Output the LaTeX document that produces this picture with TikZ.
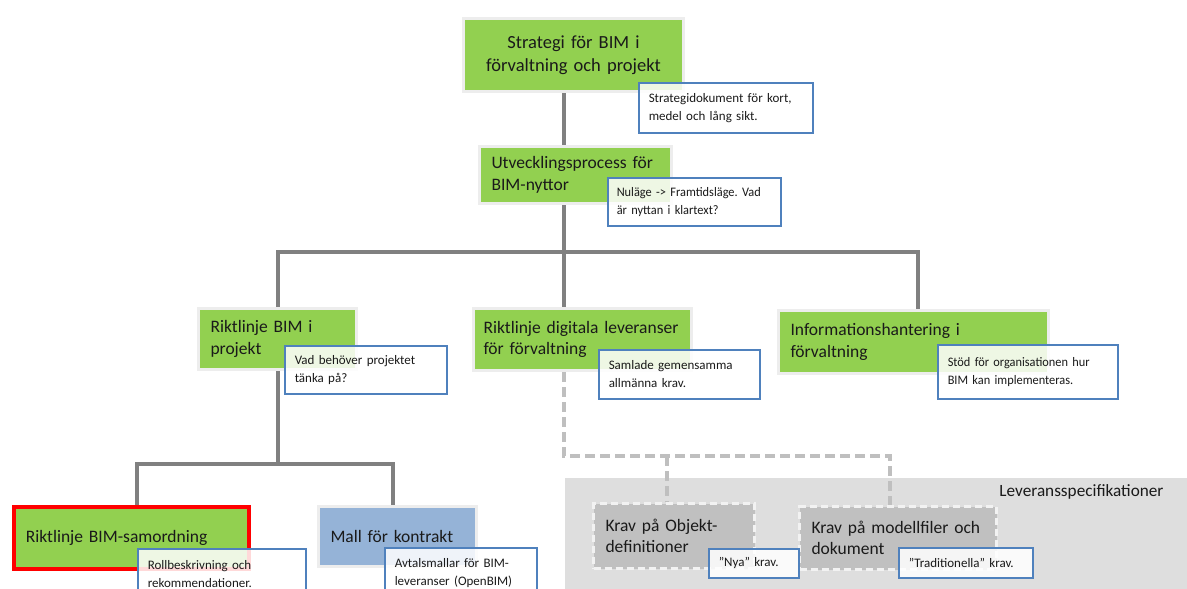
\documentclass[tikz,border=0pt]{standalone}
\usepackage{fontspec}
\setmainfont{Carlito}
\newfontfamily\notecond[FakeStretch=0.95]{Carlito}
\usetikzlibrary{backgrounds}
\frenchspacing
\definecolor{bimgreen}{HTML}{92D050}
\definecolor{bimblue}{HTML}{95B3D7}
\definecolor{kravgray}{HTML}{C0C0C0}
\definecolor{notebd}{HTML}{4F81BD}
\definecolor{lineg}{HTML}{808080}
\definecolor{dashg}{HTML}{BFBFBF}
\definecolor{regiong}{HTML}{DEDEDE}
\definecolor{glowg}{HTML}{EDEDED}
\definecolor{txt}{HTML}{1A1A1A}
\tikzset{
  glowbox/.style={draw=glowg, line width=3pt, anchor=north west, inner xsep=12pt,
    inner ysep=2pt, text=txt, align=left, font=\fontsize{17.5}{21.5}\selectfont},
  greenbox/.style={glowbox, fill=bimgreen},
  bluebox/.style={glowbox, fill=bimblue},
  redbox/.style={glowbox, fill=bimgreen, draw=red, line width=3.5pt},
  kravbox/.style={glowbox, fill=kravgray, draw=white!95!black, dash pattern=on 7pt off 4pt},
  notebox/.style={draw=notebd, line width=1.5pt, fill=white, fill opacity=0.85,
    text opacity=1, anchor=north west, inner xsep=10pt, inner ysep=2pt, align=left,
    text=txt, font=\fontsize{13}{18}\selectfont},
  condnote/.style={notebox, font=\notecond\fontsize{13}{18}\selectfont},
  conn/.style={draw=lineg, line width=4pt},
  dconn/.style={draw=dashg, line width=4pt, dash pattern=on 10pt off 5pt},
}
\begin{document}
\begin{tikzpicture}[x=1pt,y=-1pt]
\useasboundingbox (0,0) rectangle (1187,589);
\clip (0,0) rectangle (1187,589);

% boxes
\node[greenbox, align=center, text width=196, minimum height=73, font=\fontsize{18.5}{23}\selectfont] (strat) at (462,17) {Strategi för BIM i\\förvaltning och projekt};
\node[greenbox, text width=168, minimum height=57] (utv) at (478,145) {Utvecklingsprocess för\\BIM-nyttor};
\node[greenbox, text width=134, minimum height=61] (rbp) at (197,307) {Riktlinje BIM i\\projekt};
\node[greenbox, inner xsep=10pt, text width=198, minimum height=62] (rdl) at (472,307) {Riktlinje digitala leveranser\\för förvaltning};
\node[greenbox, text width=246, minimum height=63] (rif) at (777,309) {Informationshantering i\\förvaltning};
\node[redbox, text width=211, minimum height=62] (bsam) at (12,505) {Riktlinje BIM-samordning};
\node[bluebox, text width=134, minimum height=60] (mall) at (317,505) {Mall för kontrakt};
\node[kravbox, text width=137, minimum height=65] (kob) at (592,502) {Krav på Objekt-\\definitioner};
\node[kravbox, text width=173, minimum height=63] (kmf) at (798,505) {Krav på modellfiler och\\dokument};
\node[anchor=base east, text=txt, font=\fontsize{17.2}{20}\selectfont] (levspec) at (1167,496) {Leveransspecifikationer};

% notes
\node[notebox, text width=154, minimum height=50] (n1) at (638,82) {Strategidokument för kort,\\medel och lång sikt.};
\node[condnote, inner xsep=9pt, text width=155, minimum height=48] (n2) at (607,177) {Nuläge -> Framtidsläge. Vad\\är nyttan i klartext?};
\node[notebox, text width=142, minimum height=48] (n3) at (284,345) {Vad behöver projektet\\tänka på?};
\node[notebox, text width=141, minimum height=49] (n4) at (598,349) {Samlade gemensamma\\allmänna krav.};
\node[condnote, text width=160, minimum height=54] (n5) at (937,344) {Stöd för organisationen hur\\BIM kan implementeras.};
\node[notebox, text width=148, minimum height=50] (n6) at (137,548) {Rollbeskrivning och\\rekommendationer.};
\node[notebox, text width=132, minimum height=50] (n7) at (384,547) {Avtalsmallar för BIM-\\leveranser (OpenBIM)};
\node[notebox, text width=70, minimum height=29] (n8) at (708,548) {”Nya” krav.};
\node[notebox, text width=114, minimum height=30] (n9) at (898,547) {”Traditionella” krav.};

\begin{pgfonlayer}{background}
% grey area for the delivery specifications
\fill[regiong] (565,478) rectangle (1187,589);
% connectors
\coordinate (trunk) at (564,252);
\coordinate (lbus) at (278,252);
\coordinate (rbus) at (918,252);
\coordinate (lbus2) at (278,464);
\coordinate (sbus) at (137,464);
\coordinate (mbus) at (393,464);
\draw[conn] (strat.south -| trunk) -- (utv.north -| trunk);
\draw[conn] (utv.south -| trunk) -- (trunk);
\draw[conn] (rbp.north -| lbus) -- (lbus) -- (rbus) -- (rif.north -| rbus);
\draw[conn] (trunk) -- (rdl.north -| trunk);
\draw[conn] (rbp.south -| lbus2) -- (lbus2);
\draw[conn] (bsam.north -| sbus) -- (sbus) -- (mbus) -- (mall.north -| mbus);
\coordinate (dtop) at (564,456);
\coordinate (dleft) at (667,456);
\coordinate (dright) at (890,456);
\draw[dconn] (rdl.south -| dtop) -- (dtop) -- (dright) -- (kmf.north -| dright);
\draw[dconn] (dleft) -- (kob.north -| dleft);
\end{pgfonlayer}
\end{tikzpicture}
\end{document}
